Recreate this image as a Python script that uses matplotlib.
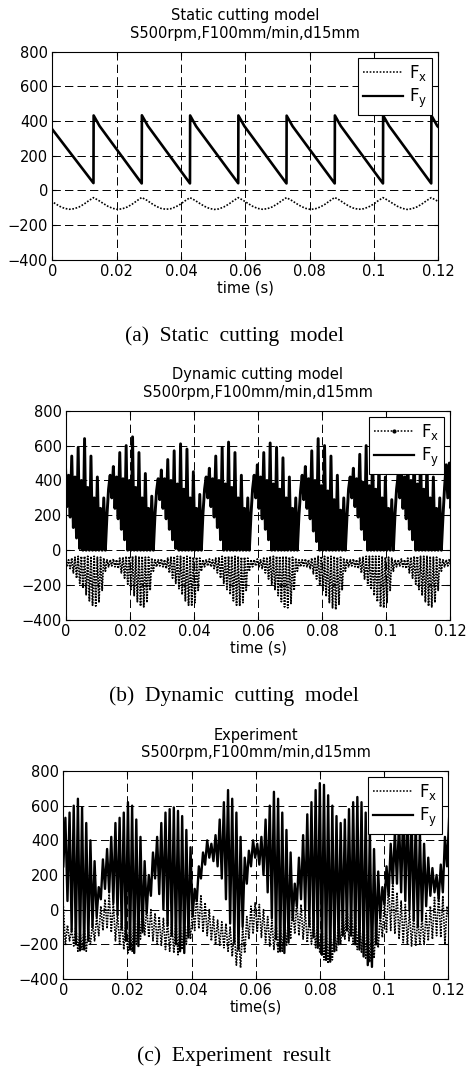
import numpy as np
import matplotlib.pyplot as plt
from matplotlib.lines import Line2D

plt.rcParams['font.family'] = ['DejaVu Sans']
plt.rcParams['mathtext.default'] = 'regular'
plt.rcParams['lines.scale_dashes'] = False

xticks = [0, 0.02, 0.04, 0.06, 0.08, 0.1, 0.12]
xtick_labels = ['0', '0.02', '0.04', '0.06', '0.08', '0.1', '0.12']
yticks = [-400, -200, 0, 200, 400, 600, 800]
subtitle = 'S500rpm,F100mm/min,d15mm'

# (a) static model: sawtooth corners of Fy
stat_fy_t = [0.0, 0.0128, 0.01285, 0.0147,
             0.0278, 0.02785, 0.0297,
             0.0428, 0.04285, 0.0447,
             0.0578, 0.05785, 0.0597,
             0.0728, 0.07285, 0.0747,
             0.0878, 0.08785, 0.0897,
             0.1028, 0.10285, 0.1047,
             0.1178, 0.11785, 0.1197, 0.12]
stat_fy = [352, 42, 432, 371,
           40, 433, 372,
           40, 432, 370,
           41, 432, 371,
           40, 431, 370,
           40, 432, 371,
           40, 432, 372,
           40, 432, 371, 366]
# Fx sampled every 1.5 ms from -2.2 ms, one row per tooth pass
stat_fx_t0, stat_fx_dt = -0.0022, 0.0015
stat_fx = [[-42, -57, -75, -92, -104, -109, -106, -96, -80, -60],
           [-42, -57, -75, -92, -104, -110, -106, -96, -80, -60],
           [-41, -56, -75, -92, -104, -109, -106, -96, -80, -60],
           [-42, -57, -75, -92, -104, -110, -107, -96, -80, -60],
           [-42, -57, -75, -92, -104, -109, -106, -96, -80, -60],
           [-42, -57, -75, -92, -104, -110, -106, -96, -80, -60],
           [-41, -56, -75, -92, -104, -109, -106, -96, -80, -60],
           [-42, -57, -75, -92, -104, -110, -106, -96, -80, -60],
           [-42, -57, -75, -92, -104, -109, -106, -96, -80, -60],
           [-42]]

# (b) dynamic model: per tooth pass, 15 cycles of (valley, peak), 0.5 ms apart
dyn_t0, dyn_dt = -0.0017, 0.0005
dyn_fy_low = [[360, 310, 250, 190, 130, 70, 10, 0, 0, 0, 0, 0, 0, 0, 0],
              [350, 300, 240, 180, 120, 60, 0, 0, 0, 0, 0, 0, 0, 0, 0],
              [340, 290, 240, 180, 120, 60, 10, 0, 0, 0, 0, 0, 0, 0, 0],
              [350, 300, 250, 190, 130, 60, 0, 0, 0, 0, 0, 0, 0, 0, 0],
              [350, 300, 240, 180, 120, 60, 0, 0, 0, 0, 0, 0, 0, 0, 0],
              [340, 290, 240, 180, 110, 50, 0, 0, 0, 0, 0, 0, 0, 0, 0],
              [350, 300, 250, 190, 120, 60, 0, 0, 0, 0, 0, 0, 0, 0, 0],
              [350, 300, 240, 180, 120, 60, 0, 0, 0, 0, 0, 0, 0, 0, 0],
              [360, 300, 240, 180, 120, 60, 0, 0, 0, 0, 0, 0, 0, 0, 0]]
dyn_fy_high = [[440, 500, 430, 540, 420, 590, 400, 640, 360, 540, 300, 420, 240, 300, 200],
               [430, 480, 420, 560, 410, 600, 400, 650, 360, 560, 300, 440, 240, 310, 200],
               [410, 460, 410, 520, 400, 570, 380, 610, 350, 580, 300, 450, 240, 320, 210],
               [420, 470, 410, 540, 400, 590, 380, 620, 360, 560, 300, 430, 240, 300, 200],
               [430, 490, 420, 560, 400, 615, 380, 590, 350, 530, 300, 420, 240, 300, 200],
               [430, 480, 410, 570, 400, 640, 370, 600, 340, 540, 290, 430, 230, 300, 190],
               [420, 470, 410, 550, 390, 600, 370, 590, 350, 520, 300, 420, 240, 290, 200],
               [430, 480, 420, 550, 400, 600, 380, 590, 350, 530, 300, 420, 240, 300, 190],
               [490, 500, 430, 550, 400, 600, 380, 590, 350, 530, 300, 420, 240, 300, 190]]
dyn_fx_low = [[-95, -90, -95, -105, -130, -160, -190, -220, -255, -290, -315, -320, -300, -230, -120],
              [-95, -90, -95, -105, -130, -160, -195, -225, -260, -295, -320, -325, -300, -230, -120],
              [-95, -90, -95, -105, -130, -160, -190, -220, -255, -290, -315, -320, -300, -230, -120],
              [-95, -90, -95, -105, -130, -160, -190, -225, -255, -290, -315, -320, -300, -230, -120],
              [-95, -90, -95, -105, -130, -165, -195, -225, -260, -295, -325, -330, -305, -230, -120],
              [-95, -90, -95, -105, -135, -165, -200, -230, -265, -300, -330, -340, -310, -230, -120],
              [-95, -90, -95, -105, -130, -165, -195, -225, -260, -295, -325, -330, -300, -230, -120],
              [-95, -90, -95, -105, -130, -160, -195, -225, -260, -295, -320, -325, -300, -230, -120],
              [-95, -90, -95, -105, -130, -160, -190, -220, -255, -290, -315, -320, -300, -230, -120]]
dyn_fx_high = [[-55, -50, -55, -45, -40, -35, -35, -35, -35, -35, -35, -40, -40, -45, -55]] * 9

# (c) experiment: samples every 0.65 ms
exp_dt = 0.00065
exp_fy = [250,
          530, 50, 560, -120, 600, -200, 640, -235, 590, -230, 500, -180, 400, -100, 280, -40,
          130, 60,
          290, 120, 350, 100, 420, 40, 500, -30, 530, -110, 560, -180, 620, -230, 600, -250,
          520, -210, 420, -130, 280, -20,
          200, 80,
          330, 180, 420, 90, 500, 0, 560, -90, 580, -150, 590, -200, 570, -240, 540, -250,
          460, -160, 360, -40,
          120, 50,
          250, 180, 330, 260, 400, 300, 380, 280, 430, 250,
          520, 180, 620, 60, 690, -80, 640, -190, 560, -230,
          420, -100, 300, 150, 340, 250, 400, 300, 380, 260, 420, 200,
          520, 100, 600, -50, 680, -170, 640, -240, 560, -250, 460, -190, 330, -60,
          150, 20,
          300, 60, 430, 0, 550, -90, 620, -160, 690, -220, 730, -260, 720, -290, 660, -300,
          600, -240, 540, -200, 500, -150, 520, -120, 580, -150, 620, -200, 650, -230,
          620, -270, 560, -320, 470, -330, 350, -200, 220, -50,
          130, 30,
          250, 80, 380, 150, 450, 150, 520, 100, 580, 50, 600, 0, 560, -60, 520, -100,
          450, -60, 380, 20, 300, 80, 240, 100, 200, 60, 260, 100, 420, 250,
          527]
exp_fx = [20,
          -200, -90, -180, -110, -210, -90, -240, -120,
          -230, -100, -240, -110, -200, -80, -180, -40,
          -150, 20, -120, 60, -110, 90, -130, 40,
          -180, -20, -200, -50, -230, -60, -250, -80, -240, -50,
          -200, 0, -170, 30, -150, 20, -160, 0, -180, -20, -200, -40,
          -210, -50, -230, -60, -240, -70, -250, -60, -260, -80, -230, -60, -200, -40,
          -170, 20, -120, 100, -110, 80, -130, 40, -150, 0,
          -180, -40, -200, -60, -210, -70, -220, -80, -240, -100,
          -270, -120, -320, -130, -335, -110, -250, -40,
          -170, 20, -140, 40, -130, 30, -160, 0,
          -190, -40, -210, -60, -230, -70, -250, -80, -240, -70, -210, -40,
          -170, 20, -140, 50, -150, 30, -170, -10,
          -190, -40, -200, -60, -220, -70, -250, -90,
          -290, -110, -310, -120, -290, -100, -240, -60,
          -200, 0, -170, 30, -180, 10, -200, -30,
          -230, -50, -250, -70, -280, -90, -300, -100, -280, -80, -220, -30,
          -160, 60, -130, 150, -120, 160, -140, 100,
          -170, 50, -190, 30, -200, 0, -210, -30,
          -210, -50, -200, -40, -200, -20, -180, 20,
          -170, 70, -150, 100, -160, 80, -200, 20,
          -60]


def interleave(lows, highs):
    out = []
    for lo_row, hi_row in zip(lows, highs):
        for lo, hi in zip(lo_row, hi_row):
            out += [lo, hi]
    return np.array(out, dtype=float)


def setup(ax, title, xlabel):
    ax.set_xlim(0, 0.12)
    ax.set_ylim(-400, 800)
    ax.set_xticks(xticks)
    ax.set_xticklabels(xtick_labels)
    ax.set_yticks(yticks)
    ax.grid(True, color='k', lw=0.7, ls=(0, (6, 3)))
    ax.tick_params(direction='in', length=3, top=True, right=True,
                   labelsize=10.5, pad=3, width=0.8)
    ax.set_title(title + '\n' + subtitle, fontsize=10.5, linespacing=1.2, pad=10)
    ax.set_xlabel(xlabel, fontsize=10.5, labelpad=1)
    for s in ax.spines.values():
        s.set_linewidth(0.8)


def add_legend(ax, fx_marker=None):
    h_fx = Line2D([], [], color='k', lw=1.1, ls=(0, (1.2, 1.2)),
                  marker=fx_marker, markersize=4)
    h_fy = Line2D([], [], color='k', lw=1.6)
    leg = ax.legend([h_fx, h_fy], ['F$_x$', 'F$_y$'], loc='upper right',
                    fontsize=12, fancybox=False, edgecolor='k', framealpha=1,
                    handlelength=2.4, handletextpad=0.4, borderaxespad=0.35,
                    labelspacing=0.25, borderpad=0.3, numpoints=1)
    leg.get_frame().set_linewidth(0.8)


fig = plt.figure(figsize=(4.71, 10.68), dpi=100)
H = 1068.0
W = 471.0

# panel (a)
ax1 = fig.add_axes([52.3 / W, 1 - 259.7 / H, 386 / W, 208 / H])
fx_vals = np.concatenate([np.array(r, dtype=float) for r in stat_fx])
fx_t = stat_fx_t0 + stat_fx_dt * np.arange(len(fx_vals))
ax1.plot(fx_t, fx_vals, color='k', lw=1.2, ls=(0, (1.2, 1.2)))
ax1.plot(stat_fy_t, stat_fy, color='k', lw=1.9)
setup(ax1, 'Static cutting model', 'time (s)')
add_legend(ax1)

# panel (b)
ax2 = fig.add_axes([66 / W, 1 - 620 / H, 384 / W, 209.3 / H])
fy_d = interleave(dyn_fy_low, dyn_fy_high)
fx_d = interleave(dyn_fx_low, dyn_fx_high)
t_d = dyn_t0 + dyn_dt * np.arange(len(fy_d))
ax2.plot(t_d, fx_d, color='k', lw=1.3, ls=(0, (1.2, 0.9)))
ax2.plot(t_d, fy_d, color='k', lw=2.1)
setup(ax2, 'Dynamic cutting model', 'time (s)')
add_legend(ax2, fx_marker='.')

# panel (c)
ax3 = fig.add_axes([63.3 / W, 1 - 979 / H, 385 / W, 208 / H])
t_e = exp_dt * np.arange(len(exp_fy))
ax3.plot(t_e, exp_fx, color='k', lw=1.2, ls=(0, (1.2, 0.9)))
ax3.plot(t_e, exp_fy, color='k', lw=1.7)
setup(ax3, 'Experiment', 'time(s)')
add_legend(ax3)

cap = dict(ha='center', va='baseline', family=['Liberation Serif', 'DejaVu Serif'], fontsize=15.5)
fig.text(234 / W, 1 - 341 / H, '(a)  Static  cutting  model', **cap)
fig.text(234 / W, 1 - 701 / H, '(b)  Dynamic  cutting  model', **cap)
fig.text(234 / W, 1 - 1061 / H, '(c)  Experiment  result', **cap)

fig.savefig('out.png', dpi=100)
